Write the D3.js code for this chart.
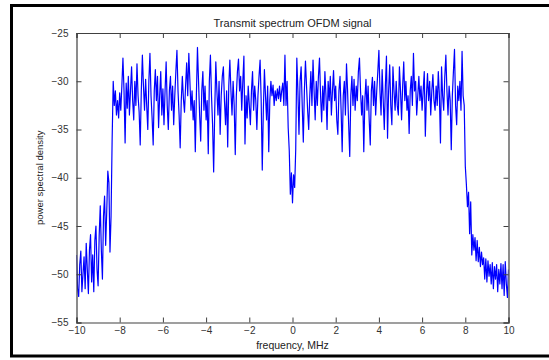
<!DOCTYPE html>
<html>
<head>
<meta charset="utf-8">
<script src="https://cdn.jsdelivr.net/npm/d3@7"></script>
<style>
    body { margin: 0; background: #fff; }
    svg { display: block; font-family: "Liberation Sans", Arial, sans-serif; }
</style>
</head>
<body>
<div id="graph"></div>
<script>
// psd samples, 0.05 MHz apart
const step = 0.05;

const lowSkirtStart = -10;
const lowSkirt = [
    -48.0, -51.5, -52.3, -49.0, -47.6, -51.8, -50.0, -48.2, -51.5, -46.8,
    -49.5, -52.0, -47.5, -45.9, -50.8, -48.0, -51.8, -46.5, -45.0, -49.5,
    -51.2, -46.0, -42.9, -47.5, -50.5, -44.0, -41.9, -47.0, -43.5, -39.3,
    -40.5, -47.7, -44.0, -36.0
];

const bandStart = -8.3;
const band = [
    -30.0, -32.5, -31.0, -33.5, -32.0, -33.8, -31.2,
    // -7.95 .. -7.00
    -33.0, -30.5, -27.6, -31.0, -36.4, -30.2, -32.8, -29.5, -33.5, -31.0,
    -28.5, -32.0, -34.0, -30.0, -32.5, -28.2, -31.5, -33.2, -36.6, -31.0,
    // -6.95 .. -6.00
    -27.3, -30.5, -33.0, -29.8, -32.5, -35.0, -30.0, -27.1, -31.5, -33.8,
    -36.6, -31.0, -28.8, -32.0, -29.5, -34.8, -31.5, -29.0, -33.5, -30.8,
    // -5.95 .. -5.00
    -34.5, -31.0, -28.0, -32.5, -35.0, -31.0, -29.5, -33.0, -30.5, -34.5,
    -31.5, -29.0, -26.8, -31.0, -33.5, -36.9, -32.0, -29.5, -31.8, -33.2,
    // -4.95 .. -4.00
    -30.5, -28.1, -31.5, -27.1, -30.0, -33.0, -31.0, -34.0, -32.0, -37.3,
    -31.5, -26.5, -30.0, -33.5, -36.2, -31.0, -29.0, -33.0, -30.5, -34.0,
    // -3.95 .. -3.00
    -32.0, -37.5, -30.0, -27.3, -31.5, -34.5, -39.4, -33.0, -28.0, -31.0,
    -33.5, -30.0, -35.5, -31.5, -29.5, -28.5, -32.0, -34.5, -31.0, -36.8,
    // -2.95 .. -2.00
    -30.5, -27.8, -31.0, -33.5, -30.0, -32.5, -37.6, -31.5, -29.0, -27.7,
    -31.0, -29.5, -33.0, -30.0, -27.4, -36.5, -31.5, -33.8, -30.5, -32.5,
    // -1.95 .. -1.00
    -34.5, -31.0, -29.0, -33.0, -30.5, -32.0, -35.0, -31.5, -29.5, -27.8,
    -32.0, -39.2, -33.0, -28.8, -31.5, -34.0, -30.5, -37.3, -32.0, -30.0,
    // -0.95 .. 0.00
    -31.5, -30.4, -32.5, -31.0, -32.0, -30.8, -31.8, -30.5, -32.1, -31.0,
    -30.2, -32.5, -27.3, -32.5, -30.0, -34.8, -37.2, -41.7, -39.5, -42.6,
    // 0.05 .. 1.00
    -39.7, -41.0, -37.0, -27.6, -31.0, -35.5, -30.0, -28.5, -32.5, -36.3,
    -31.0, -27.9, -30.5, -33.0, -35.0, -31.5, -29.0, -32.5, -27.8, -31.0,
    // 1.05 .. 2.00
    -34.0, -30.0, -32.5, -29.5, -27.6, -31.5, -34.2, -30.5, -33.0, -29.0,
    -31.5, -35.0, -30.0, -32.0, -29.5, -33.5, -31.0, -28.9, -32.0, -30.5,
    // 2.05 .. 3.00
    -34.0, -35.5, -31.0, -29.5, -33.0, -37.3, -31.5, -30.0, -33.5, -28.2,
    -31.0, -34.5, -37.8, -31.5, -29.5, -32.5, -29.8, -33.0, -30.5, -32.0,
    // 3.05 .. 4.00
    -29.0, -27.6, -31.0, -33.5, -31.5, -37.3, -32.0, -29.8, -33.0, -30.5,
    -34.0, -36.6, -31.0, -29.6, -32.5, -30.0, -33.5, -31.0, -29.0, -26.8,
    // 4.05 .. 5.00
    -31.0, -33.5, -28.8, -32.0, -35.0, -30.5, -27.4, -35.9, -31.0, -28.3,
    -32.5, -34.5, -28.5, -31.0, -33.0, -30.0, -32.5, -33.5, -28.5, -31.0,
    // 5.05 .. 6.00
    -34.0, -30.5, -28.0, -32.0, -30.0, -33.0, -31.5, -35.4, -31.0, -29.5,
    -32.5, -27.1, -31.0, -30.0, -33.5, -31.5, -29.5, -32.0, -30.5, -33.0,
    // 6.05 .. 7.00
    -31.0, -29.0, -35.7, -31.5, -29.2, -32.0, -30.0, -33.5, -31.0, -29.3,
    -32.0, -33.0, -30.5, -32.5, -29.0, -31.5, -36.4, -28.5, -31.5, -33.0,
    // 7.05 .. 7.90
    -29.5, -27.3, -31.0, -33.5, -30.5, -32.0, -37.1, -31.5, -29.0, -26.7,
    -32.5, -34.5, -30.5, -32.0, -30.0, -33.0, -26.9, -31.5
];

const highSkirtStart = 7.95;
const highSkirt = [
    -32.5, -38.8, -40.7, -43.0, -41.5, -45.8, -42.5, -48.0, -45.9, -47.5,
    -46.2, -48.6, -46.5, -48.7, -47.2, -49.2, -47.7, -49.0, -48.3, -50.5,
    -48.4, -50.8, -48.6, -50.2, -49.0, -51.0, -48.8, -51.5, -49.2, -50.5,
    -49.0, -51.8, -49.5, -51.0, -48.9, -51.5, -49.0, -52.2, -48.7, -51.0,
    -52.4, -49.5
];

const xTicks = [-10, -8, -6, -4, -2, 0, 2, 4, 6, 8, 10];
const yTicks = [-55, -50, -45, -40, -35, -30, -25];

const title = "Transmit spectrum OFDM signal";
const xLabel = "frequency, MHz";
const yLabel = "power spectral density";

function toPoints(start, values) {
    return values.map((v, i) => ({ f: start + i * step, p: v }));
}

let data = [].concat(
    toPoints(lowSkirtStart, lowSkirt),
    toPoints(bandStart, band),
    toPoints(highSkirtStart, highSkirt)
);

const W = 549, H = 360;
const plotL = 76.5, plotR = 508.5, plotT = 33, plotB = 322.5;
const TICK = 5;

let svg = d3.select("#graph").append("svg").attr("width", W).attr("height", H);

// outer frame (cut off on the right)
svg.append("rect")
    .attr("x", 11.5).attr("y", 5.5)
    .attr("width", 580).attr("height", 350.5)
    .attr("fill", "none").attr("stroke", "#000").attr("stroke-width", 3);

let x = d3.scaleLinear().domain([-10, 10]).range([plotL, plotR]);
let y = d3.scaleLinear().domain([-55, -25]).range([plotB, plotT]);

svg.append("clipPath").attr("id", "clip")
    .append("rect").attr("x", plotL).attr("y", plotT)
    .attr("width", plotR - plotL).attr("height", plotB - plotT);

let line = d3.line().x(d => x(d.f)).y(d => y(d.p));

svg.append("path")
    .datum(data)
    .attr("clip-path", "url(#clip)")
    .attr("d", line)
    .attr("fill", "none")
    .attr("stroke", "#0000ff")
    .attr("stroke-width", 1.2)
    .attr("stroke-linejoin", "round");

// box axes, ticks pointing inward like matlab
const axisColor = "#404040";
let bottomAxis = d3.axisBottom(x).tickValues(xTicks).tickSize(-TICK).tickPadding(4).tickFormat(d3.format("d"));
let topAxis = d3.axisTop(x).tickValues(xTicks).tickSize(-TICK).tickFormat("");
let leftAxis = d3.axisLeft(y).tickValues(yTicks).tickSize(-TICK).tickPadding(8).tickFormat(d3.format("d"));
let rightAxis = d3.axisRight(y).tickValues(yTicks).tickSize(-TICK).tickFormat("");

function styleAxis(g) {
    g.selectAll(".domain").attr("stroke", axisColor).attr("stroke-width", 1.2);
    g.selectAll(".tick line").attr("stroke", axisColor);
    g.selectAll(".tick text").attr("fill", "#333").style("font-size", "10px")
        .style("font-family", "'Liberation Sans', Arial, sans-serif");
}

svg.append("g").attr("transform", `translate(0,${plotB})`).call(bottomAxis).call(styleAxis);
svg.append("g").attr("transform", `translate(0,${plotT})`).call(topAxis).call(styleAxis);
svg.append("g").attr("transform", `translate(${plotL},0)`).call(leftAxis).call(styleAxis);
svg.append("g").attr("transform", `translate(${plotR},0)`).call(rightAxis).call(styleAxis);

svg.append("text")
    .attr("x", (plotL + plotR) / 2).attr("y", 27)
    .attr("text-anchor", "middle")
    .attr("fill", "#222")
    .style("font-size", "11px")
    .text(title);

svg.append("text")
    .attr("x", (plotL + plotR) / 2).attr("y", 349)
    .attr("text-anchor", "middle")
    .attr("fill", "#222")
    .style("font-size", "10.5px")
    .text(xLabel);

svg.append("text")
    .attr("transform", `translate(43,${(plotT + plotB) / 2}) rotate(-90)`)
    .attr("text-anchor", "middle")
    .attr("fill", "#222")
    .style("font-size", "9.5px")
    .text(yLabel);
</script>
</body>
</html>
